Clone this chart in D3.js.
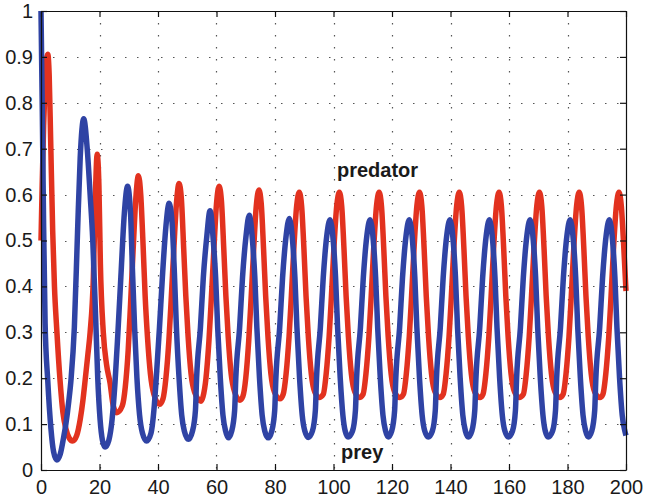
<!DOCTYPE html>
<html><head><meta charset="utf-8">
<script src="https://cdn.jsdelivr.net/npm/d3@7"></script>
<style>
html,body{margin:0;padding:0;background:#fff;}
text{font-family:"Liberation Sans",Arial,Helvetica,sans-serif;}
</style></head>
<body><svg id="c" width="645" height="504"></svg>
<script>
// ---- data ----
const xTicks = [0,20,40,60,80,100,120,140,160,180,200];
const yTicks = [0,0.1,0.2,0.3,0.4,0.5,0.6,0.7,0.8,0.9,1];
const yTickLabels = ["0","0.1","0.2","0.3","0.4","0.5","0.6","0.7","0.8","0.9","1"];
const seriesNames = ["predator","prey"];
const seriesColors = ["#e2321f","#2f43a4"];

// predator [time, value]
const predator = [
[0,0.50],[0.4,0.62],[0.9,0.75],[1.4,0.84],[1.9,0.895],[2.3,0.906],[2.8,0.86],[3.3,0.72],[4.0,0.52],[4.6,0.40],[5.4,0.305],[6.5,0.196],[7.5,0.125],[8.5,0.09],[9.6,0.07],[10.8,0.063],
[12.2,0.075],[13.4,0.11],[14.3,0.15],[15.0,0.19],[16.0,0.25],[16.8,0.30],[17.9,0.42],[18.6,0.6],[19.2,0.688],[19.8,0.62],[20.3,0.45],[21.3,0.3],[22.4,0.23],[23.6,0.19],[24.7,0.14],[25.9,0.125],
[27.8,0.14],[28.8,0.18],[29.8,0.26],[30.6,0.36],[31.5,0.48],[32.4,0.59],[33.3,0.641],[34.1,0.6],[34.9,0.49],[35.6,0.38],[36.4,0.29],[37.4,0.21],[38.6,0.165],[40.5,0.143],
[41.7,0.155],[42.7,0.2],[43.7,0.28],[44.5,0.37],[45.4,0.48],[46.3,0.58],[47.2,0.624],[48.0,0.59],[48.8,0.48],[49.5,0.38],[50.3,0.29],[51.3,0.21],[52.5,0.17],[54.7,0.15],
[55.4,0.16],[56.4,0.2],[57.4,0.28],[58.2,0.37],[59.1,0.48],[60.0,0.58],[60.9,0.618],[61.7,0.585],[62.5,0.48],[63.2,0.38],[64.0,0.29],[65.0,0.21],[66.2,0.17],[68.0,0.152],
[69.0,0.16],[70.0,0.2],[71.0,0.28],[71.8,0.37],[72.7,0.48],[73.6,0.575],[74.5,0.61],[75.3,0.58],[76.1,0.48],[76.8,0.38],[77.6,0.29],[78.6,0.21],[79.8,0.17],[81.7,0.155],
[82.8,0.165],[83.8,0.21],[84.8,0.29],[85.6,0.38],[86.5,0.49],[87.4,0.575],[88.3,0.605],[89.1,0.575],[89.9,0.48],[90.6,0.38],[91.4,0.29],[92.4,0.21],[93.6,0.17],[95.1,0.158],
[96.5,0.165],[97.5,0.21],[98.5,0.29],[99.3,0.38],[100.2,0.49],[101.1,0.575],[102.0,0.605],[102.8,0.575],[103.6,0.48],[104.3,0.38],[105.1,0.29],[106.1,0.21],[107.3,0.17],[108.8,0.158],
[110.1,0.165],[111.1,0.21],[112.1,0.29],[112.9,0.38],[113.8,0.49],[114.7,0.575],[115.6,0.605],[116.4,0.575],[117.2,0.48],[117.9,0.38],[118.7,0.29],[119.7,0.21],[120.9,0.17],[122.7,0.158],
[123.9,0.165],[124.9,0.21],[125.9,0.29],[126.7,0.38],[127.6,0.49],[128.5,0.575],[129.4,0.605],[130.2,0.575],[131.0,0.48],[131.7,0.38],[132.5,0.29],[133.5,0.21],[134.7,0.17],[136.4,0.158],
[137.5,0.165],[138.5,0.21],[139.5,0.29],[140.3,0.38],[141.2,0.49],[142.1,0.575],[143.0,0.605],[143.8,0.575],[144.6,0.48],[145.3,0.38],[146.1,0.29],[147.1,0.21],[148.3,0.17],[150.1,0.158],
[151.1,0.165],[152.1,0.21],[153.1,0.29],[153.9,0.38],[154.8,0.49],[155.7,0.575],[156.6,0.605],[157.4,0.575],[158.2,0.48],[158.9,0.38],[159.7,0.29],[160.7,0.21],[161.9,0.17],[163.5,0.158],
[164.9,0.165],[165.9,0.21],[166.9,0.29],[167.7,0.38],[168.6,0.49],[169.5,0.575],[170.4,0.605],[171.2,0.575],[172.0,0.48],[172.7,0.38],[173.5,0.29],[174.5,0.21],[175.7,0.17],[177.4,0.158],
[178.5,0.165],[179.5,0.21],[180.5,0.29],[181.3,0.38],[182.2,0.49],[183.1,0.575],[184.0,0.605],[184.8,0.575],[185.6,0.48],[186.3,0.38],[187.1,0.29],[188.1,0.21],[189.3,0.17],[191.1,0.158],
[192.1,0.165],[193.1,0.21],[194.1,0.29],[194.9,0.38],[195.8,0.49],[196.7,0.575],[197.6,0.605],[198.4,0.575],[199.2,0.49],[200,0.39]
];

// prey [time, value]
const prey = [
[0,1.0],[0.45,0.78],[0.9,0.53],[1.4,0.32],[2.3,0.196],[3.4,0.09],[4.3,0.04],[5.4,0.022],[6.6,0.035],[7.7,0.07],[8.5,0.1],[9.5,0.15],[10.3,0.2],[11.4,0.31],[12.5,0.52],[13.4,0.68],[14.6,0.765],[15.8,0.7],[16.8,0.6],[17.7,0.5],[18.8,0.31],[19.4,0.2],[20.2,0.11],[21.0,0.065],[21.9,0.05],
[23.2,0.065],[24.3,0.11],[25.3,0.19],[26.3,0.30],[27.3,0.42],[28.5,0.56],[29.6,0.618],[30.6,0.56],[31.3,0.43],[32.0,0.31],[32.8,0.2],[33.7,0.12],[34.7,0.08],[36.1,0.063],
[37.6,0.08],[38.6,0.13],[39.4,0.2],[40.5,0.31],[41.5,0.42],[42.7,0.53],[43.8,0.581],[44.8,0.54],[45.6,0.43],[46.3,0.31],[47.2,0.2],[48.1,0.12],[49.0,0.085],[50.4,0.067],
[51.8,0.085],[52.8,0.13],[53.2,0.2],[54.5,0.31],[55.5,0.42],[56.7,0.51],[57.8,0.565],[58.9,0.5],[59.7,0.42],[60.4,0.31],[61.3,0.2],[62.2,0.12],[63.1,0.085],[64.0,0.07],
[65.2,0.085],[66.2,0.13],[66.6,0.2],[67.9,0.31],[68.9,0.42],[70.1,0.51],[71.2,0.555],[72.3,0.5],[73.1,0.42],[73.8,0.31],[74.7,0.2],[75.6,0.12],[76.5,0.085],[77.7,0.07],
[78.9,0.085],[79.9,0.13],[80.3,0.2],[81.6,0.31],[82.6,0.42],[83.8,0.51],[84.9,0.548],[86.0,0.5],[86.8,0.42],[87.5,0.31],[88.4,0.2],[89.3,0.12],[90.2,0.085],[91.4,0.071],
[92.8,0.085],[93.8,0.13],[94.2,0.2],[95.5,0.31],[96.5,0.42],[97.7,0.51],[98.8,0.545],[99.9,0.5],[100.7,0.42],[101.4,0.31],[102.3,0.2],[103.2,0.12],[104.0,0.085],[105.0,0.072],
[106.5,0.085],[107.5,0.13],[107.9,0.2],[109.2,0.31],[110.2,0.42],[111.4,0.51],[112.5,0.545],[113.6,0.5],[114.4,0.42],[115.1,0.31],[116.0,0.2],[116.9,0.12],[117.8,0.085],[118.7,0.072],
[119.9,0.085],[120.9,0.13],[121.3,0.2],[122.6,0.31],[123.6,0.42],[124.8,0.51],[125.9,0.545],[127.0,0.5],[127.8,0.42],[128.5,0.31],[129.4,0.2],[130.3,0.12],[131.2,0.085],[132.4,0.072],
[133.8,0.085],[134.8,0.13],[135.2,0.2],[136.5,0.31],[137.5,0.42],[138.7,0.51],[139.8,0.545],[140.9,0.5],[141.7,0.42],[142.4,0.31],[143.3,0.2],[144.2,0.12],[145.1,0.085],[146.1,0.072],
[147.3,0.085],[148.3,0.13],[148.7,0.2],[150.0,0.31],[151.0,0.42],[152.2,0.51],[153.3,0.545],[154.4,0.5],[155.2,0.42],[155.9,0.31],[156.8,0.2],[157.7,0.12],[158.6,0.085],[159.8,0.072],
[161.2,0.085],[162.2,0.13],[162.6,0.2],[163.9,0.31],[164.9,0.42],[166.1,0.51],[167.2,0.545],[168.3,0.5],[169.1,0.42],[169.8,0.31],[170.7,0.2],[171.6,0.12],[172.4,0.085],[173.4,0.072],
[174.9,0.085],[175.9,0.13],[176.3,0.2],[177.6,0.31],[178.6,0.42],[179.8,0.51],[180.9,0.545],[182.0,0.5],[182.8,0.42],[183.5,0.31],[184.4,0.2],[185.3,0.12],[186.2,0.085],[187.1,0.072],
[188.3,0.085],[189.3,0.13],[189.7,0.2],[191.0,0.31],[192.0,0.42],[193.2,0.51],[194.3,0.545],[195.4,0.5],[196.2,0.42],[196.9,0.31],[197.8,0.2],[198.7,0.12],[199.6,0.085],[200,0.075]
];

// text annotations [x, y] in data units
const predatorLabelPos = [101.2, 0.638];
const preyLabelPos = [102.6, 0.024];

// ---- drawing ----
const W = 645, H = 504;
const m = {left:41, right:19, top:11, bottom:34};
const svg = d3.select("#c");
const x = d3.scaleLinear().domain([0,200]).range([m.left, W - m.right]);
const y = d3.scaleLinear().domain([0,1]).range([H - m.bottom, m.top]);

// grid
const grid = svg.append("g").attr("stroke","#555").attr("stroke-width",1.2).attr("stroke-dasharray","1.5 10.5");
grid.selectAll("line.v").data(xTicks.slice(1,-1)).join("line")
  .attr("x1",d=>Math.round(x(d))+0.5).attr("x2",d=>Math.round(x(d))+0.5)
  .attr("y1",y(1)).attr("y2",y(0));
grid.selectAll("line.h").data(yTicks.slice(1,-1)).join("line")
  .attr("y1",d=>Math.round(y(d))+0.5).attr("y2",d=>Math.round(y(d))+0.5)
  .attr("x1",x(0)).attr("x2",x(200));

// lines
const line = d3.line().x(d=>x(d[0])).y(d=>y(d[1])).curve(d3.curveMonotoneX);
svg.append("path").datum(predator).attr("d",line).attr("fill","none")
  .attr("stroke",seriesColors[0]).attr("stroke-width",5.5).attr("stroke-linejoin","round");
svg.append("path").datum(prey).attr("d",line).attr("fill","none")
  .attr("stroke",seriesColors[1]).attr("stroke-width",5.5).attr("stroke-linejoin","round");

// axes (box with inward ticks)
const tk = 6;
const fmtY = (d,i)=>yTickLabels[i];
const axB = d3.axisBottom(x).tickValues(xTicks).tickSizeInner(-tk).tickSizeOuter(0).tickPadding(10);
const axT = d3.axisTop(x).tickValues(xTicks).tickSizeInner(-tk).tickSizeOuter(0).tickFormat("");
const axL = d3.axisLeft(y).tickValues(yTicks).tickSizeInner(-tk).tickSizeOuter(0).tickPadding(8).tickFormat(fmtY);
const axR = d3.axisRight(y).tickValues(yTicks).tickSizeInner(-tk).tickSizeOuter(0).tickFormat("");
function style(g){
  g.selectAll("path.domain").attr("stroke","#111").attr("stroke-width",1.2);
  g.selectAll(".tick line").attr("stroke","#111").attr("stroke-width",1.2);
  g.selectAll(".tick text").attr("fill","#1a1a1a").attr("font-size",20).attr("font-family","Liberation Sans, Arial, sans-serif");
}
svg.append("g").attr("transform",`translate(0,${y(0)})`).call(axB).call(style);
svg.append("g").attr("transform",`translate(0,${y(1)})`).call(axT).call(style);
svg.append("g").attr("transform",`translate(${x(0)},0)`).call(axL).call(style);
svg.append("g").attr("transform",`translate(${x(200)},0)`).call(axR).call(style);

// labels
svg.append("text").attr("x",x(predatorLabelPos[0])).attr("y",y(predatorLabelPos[1]))
  .attr("font-size",20).attr("font-weight","bold").attr("fill","#1a1a1a").text(seriesNames[0]);
svg.append("text").attr("x",x(preyLabelPos[0])).attr("y",y(preyLabelPos[1]))
  .attr("font-size",20).attr("font-weight","bold").attr("fill","#1a1a1a").text(seriesNames[1]);
</script></body></html>
